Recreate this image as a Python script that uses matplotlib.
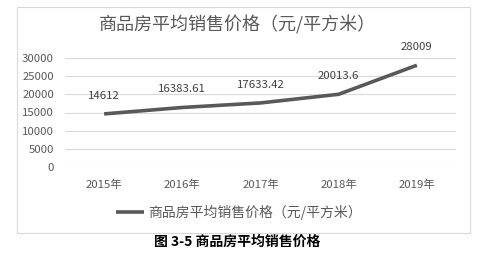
import matplotlib.pyplot as plt
from matplotlib.patches import Rectangle

plt.rcParams['font.family'] = ['Noto Sans CJK SC', 'DejaVu Sans']

years = ['2015年', '2016年', '2017年', '2018年', '2019年']
prices = [14612, 16383.61, 17633.42, 20013.6, 28009]
price_labels = ['14612', '16383.61', '17633.42', '20013.6', '28009']
yticks = [0, 5000, 10000, 15000, 20000, 25000, 30000]
series_name = '商品房平均销售价格（元/平方米）'
caption = '图 3-5 商品房平均销售价格'

W, H = 490, 263
fig = plt.figure(figsize=(W / 100, H / 100), dpi=100)
fig.patch.set_facecolor('white')

def fx(px):
    return px / W

def fy(py):
    return 1 - py / H

# chart frame
fig.patches.append(Rectangle((fx(17), fy(233)), fx(470) - fx(17), fy(7) - fy(233),
                             transform=fig.transFigure, fill=False,
                             edgecolor='#d9d9d9', linewidth=0.8))

ax = fig.add_axes([fx(65), fy(167), fx(456) - fx(65), fy(58) - fy(167)])
x = list(range(len(years)))
line, = ax.plot(x, prices, color='#595959', linewidth=2.6, solid_capstyle='butt',
                label=series_name)
ax.set_xlim(-0.5, len(years) - 0.5)
ax.set_ylim(0, 30000)
ax.set_yticks(yticks)
ax.set_yticklabels([str(v) for v in yticks])
ax.set_xticks(x)
ax.set_xticklabels(years)
ax.grid(axis='y', color='#d9d9d9', linewidth=0.8)
ax.set_axisbelow(True)
for s in ax.spines.values():
    s.set_visible(False)
ax.tick_params(axis='both', length=0, labelsize=8.2, colors='#595959')
ax.tick_params(axis='y', pad=8)
ax.tick_params(axis='x', pad=9)

for xi, yi, lab in zip(x, prices, price_labels):
    ax.annotate(lab, (xi, yi), xytext=(0, 13), textcoords='offset points',
                ha='center', va='center', fontsize=8.2, color='#404040')

fig.text(fx(237), fy(25), '商品房平均销售价格（元/平方米）', ha='center', va='center',
         fontsize=13, color='#595959')

fig.legend(handles=[line], loc='center', bbox_to_anchor=(fx(239), fy(212)),
           frameon=False, fontsize=10, handlelength=2.0, handletextpad=0.3,
           labelcolor='#595959')

fig.text(fx(237), fy(242), caption, ha='center', va='center', fontsize=10,
         fontweight='bold', color='#000000')

fig.savefig('out.png', dpi=100)
